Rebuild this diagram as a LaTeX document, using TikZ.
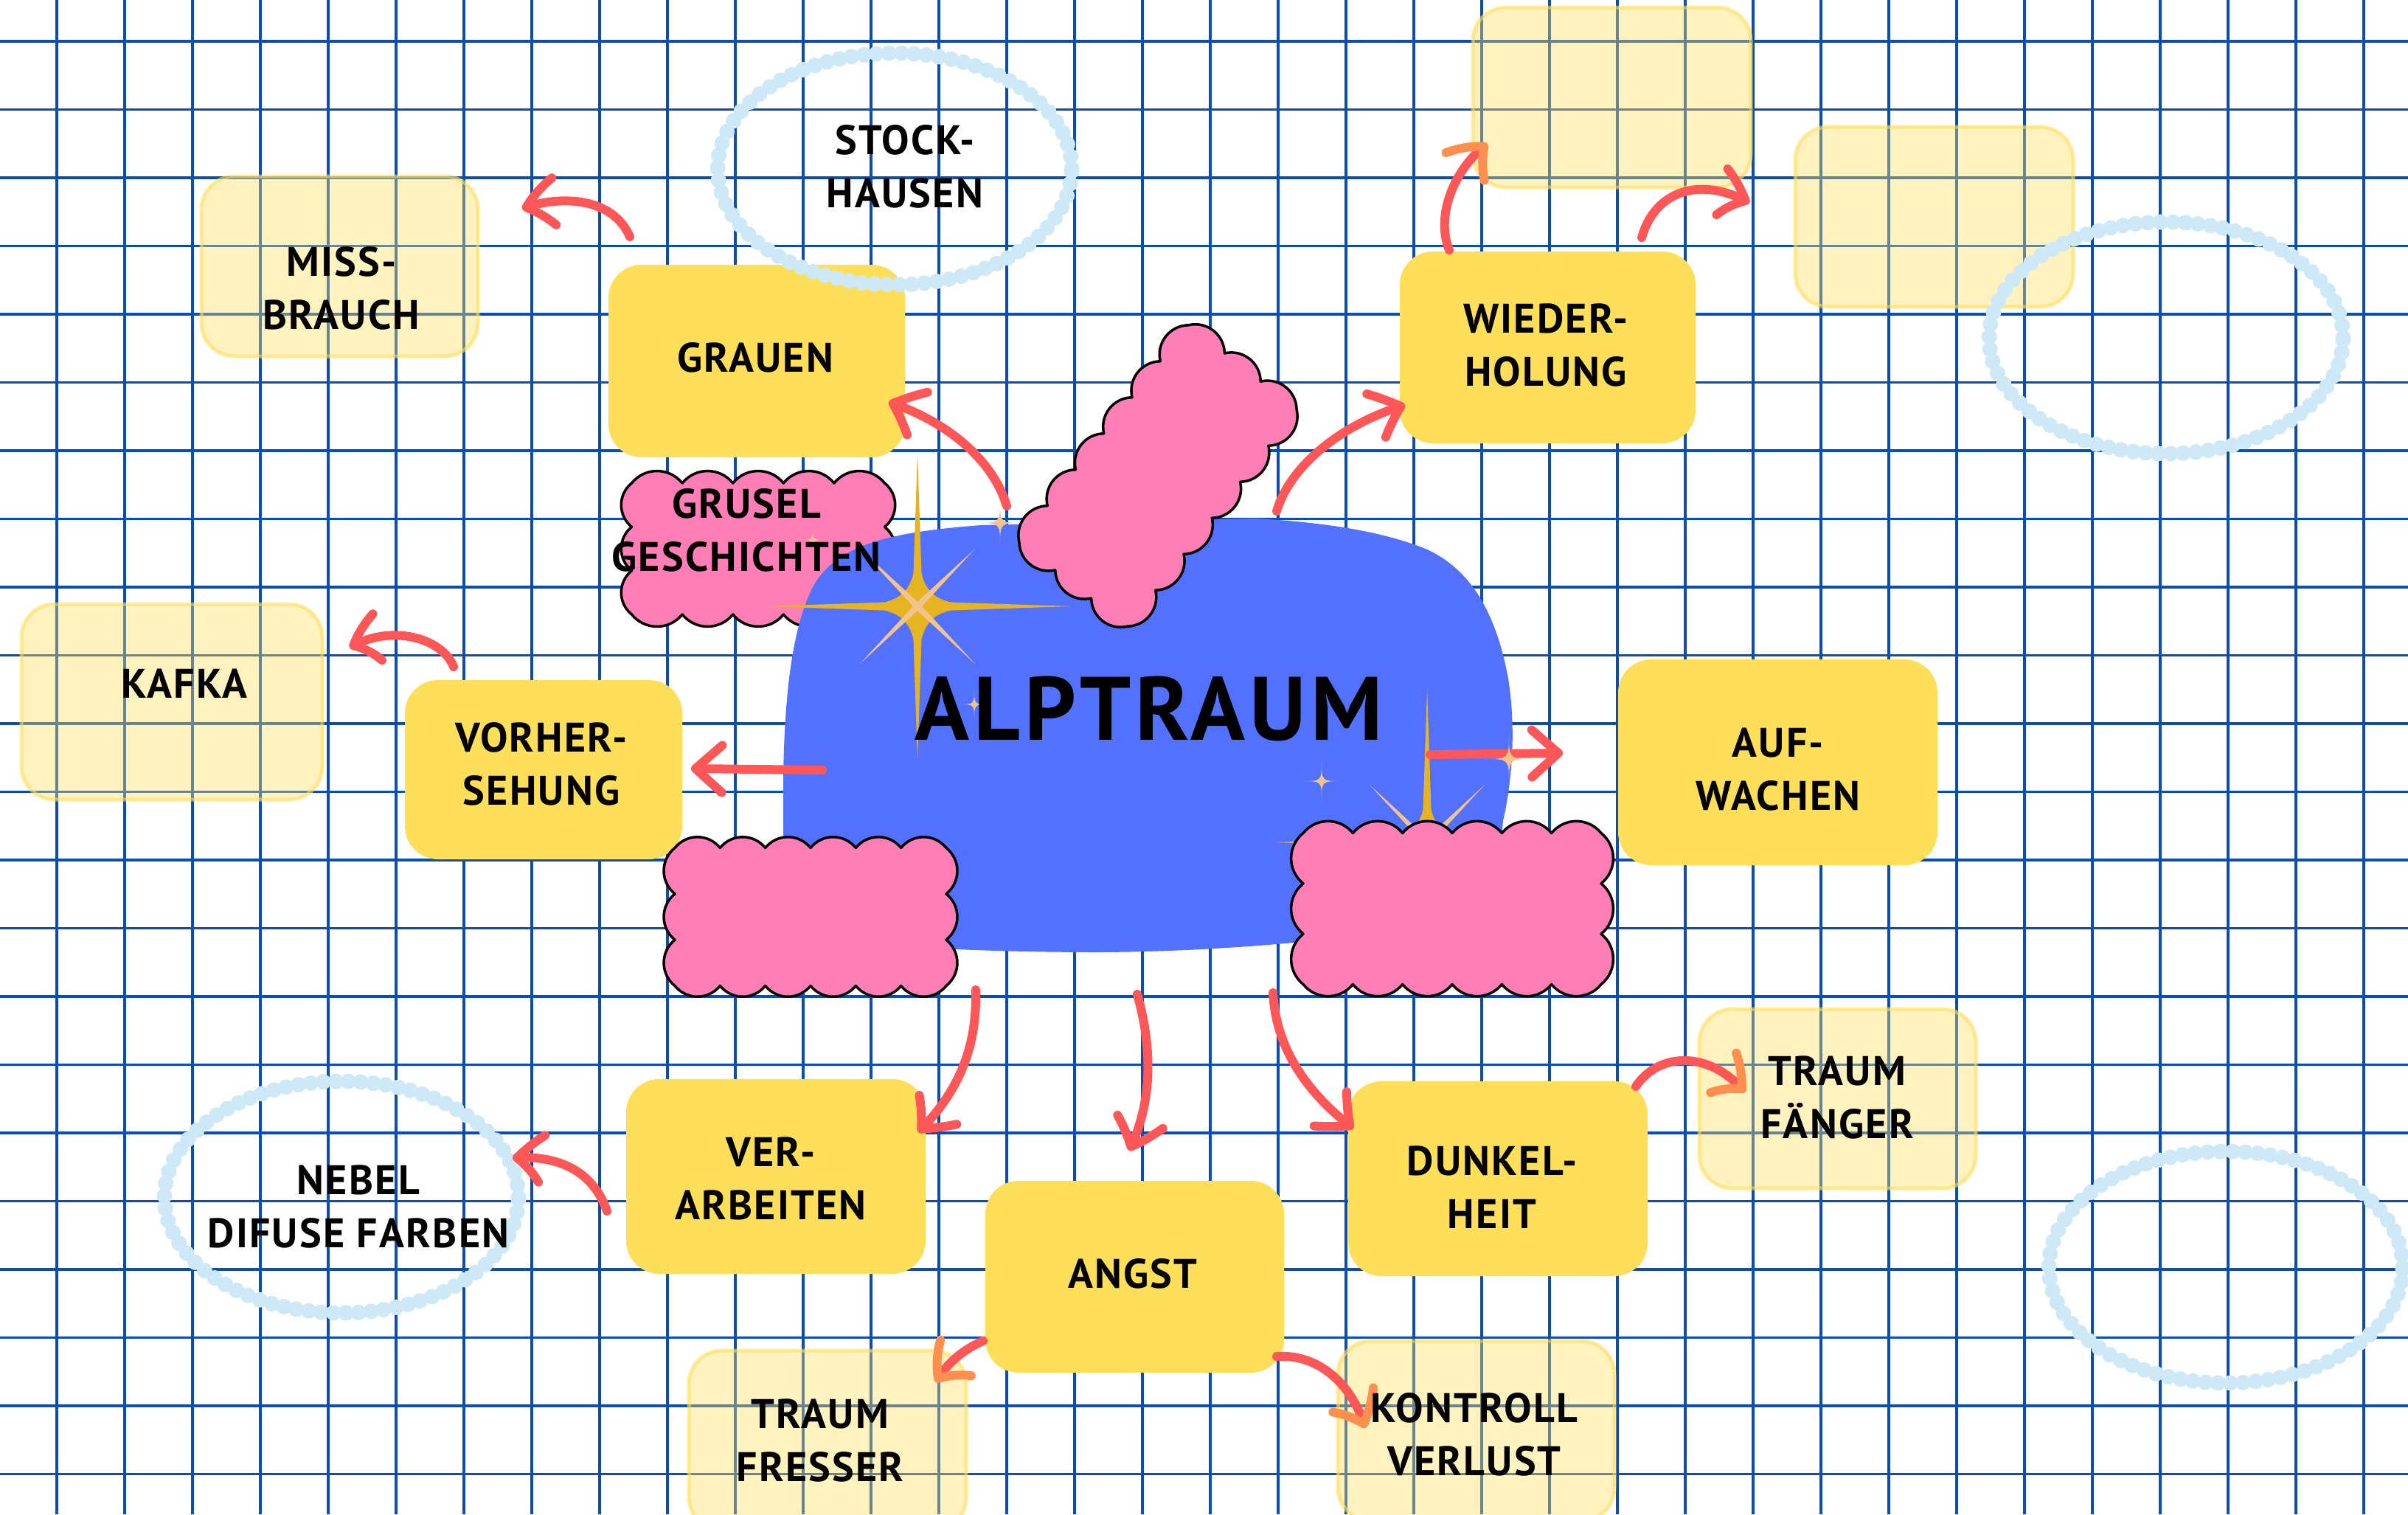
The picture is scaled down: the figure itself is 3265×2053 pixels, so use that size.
\documentclass[tikz,border=0pt]{standalone}
\usepackage{fontspec}
\setmainfont{PT Sans}
\usetikzlibrary{arrows.meta,bending}
\definecolor{gridblue}{HTML}{0A4DB3}
\definecolor{blobblue}{HTML}{5271FF}
\definecolor{cloudpink}{HTML}{FF7EB6}
\definecolor{boxyellow}{HTML}{FFDE59}
\definecolor{arrred}{HTML}{FF5757}
\definecolor{arrorange}{HTML}{FF8F4F}
\definecolor{beadblue}{HTML}{CDE8F6}
\definecolor{sparkgold}{HTML}{E6B420}
\definecolor{sparkpeach}{HTML}{F2C48C}

% scalloped cloud: cx cy W H nx ny rot
\newcommand{\scloud}[7]{%
\begin{scope}[shift={(#1,#2)}, rotate=#7]
\pgfmathsetmacro\sclW{#3/2}\pgfmathsetmacro\sclH{#4/2}%
\pgfmathsetmacro\sclX{#3/#5}\pgfmathsetmacro\sclY{#4/#6}%
\filldraw[cloudstyle] (-\sclW,-\sclH)
 \foreach \i in {1,...,#5}{ .. controls ({-\sclW+(\i-1)*\sclX+0.26*\sclX},{-\sclH-0.32*\sclX}) and ({-\sclW+\i*\sclX-0.26*\sclX},{-\sclH-0.32*\sclX}) .. ({-\sclW+\i*\sclX},{-\sclH}) }
 \foreach \i in {1,...,#6}{ .. controls ({\sclW+0.32*\sclY},{-\sclH+(\i-1)*\sclY+0.26*\sclY}) and ({\sclW+0.32*\sclY},{-\sclH+\i*\sclY-0.26*\sclY}) .. ({\sclW},{-\sclH+\i*\sclY}) }
 \foreach \i in {1,...,#5}{ .. controls ({\sclW-(\i-1)*\sclX-0.26*\sclX},{\sclH+0.32*\sclX}) and ({\sclW-\i*\sclX+0.26*\sclX},{\sclH+0.32*\sclX}) .. ({\sclW-\i*\sclX},{\sclH}) }
 \foreach \i in {1,...,#6}{ .. controls ({-\sclW-0.32*\sclY},{\sclH-(\i-1)*\sclY-0.26*\sclY}) and ({-\sclW-0.32*\sclY},{\sclH-\i*\sclY+0.26*\sclY}) .. ({-\sclW},{\sclH-\i*\sclY}) }
 -- cycle;
\end{scope}}

% small four point sparkle: x y L colour rotation
\newcommand{\sparkle}[5]{%
\begin{scope}[shift={(#1,#2)}, rotate=#5]
\fill[#4] (0,-#3) .. controls (0,0) and (0,0) .. (#3,0) .. controls (0,0) and (0,0) .. (0,#3) .. controls (0,0) and (0,0) .. (-#3,0) .. controls (0,0) and (0,0) .. cycle;
\end{scope}}

% big gold sparkle with thin peach cross: x y
\newcommand{\bigsparkle}[2]{%
\begin{scope}[shift={(#1,#2)}]
\fill[sparkgold] (0,-150) .. controls (0,0) and (0,0) .. (150,0) .. controls (0,0) and (0,0) .. (0,150) .. controls (0,0) and (0,0) .. (-150,0) .. controls (0,0) and (0,0) .. cycle;
\fill[sparkgold] (-208,0) -- (0,-7) -- (208,0) -- (0,7) -- cycle;
\fill[sparkgold] (0,-208) -- (7,0) -- (0,208) -- (-7,0) -- cycle;
\begin{scope}[rotate=45]
\fill[sparkpeach] (-110,0) -- (0,-4.5) -- (110,0) -- (0,4.5) -- cycle;
\fill[sparkpeach] (0,-110) -- (4.5,0) -- (0,110) -- (-4.5,0) -- cycle;
\end{scope}
\end{scope}}

\begin{document}
\begin{tikzpicture}[x=1pt,y=-1pt,
 gridline/.style={draw=gridblue, line width=3.5pt},
 ybox/.style={fill=boxyellow, rounded corners=45pt, inner sep=0pt, draw=none},
 lbox/.style={fill=boxyellow, fill opacity=0.38, draw=boxyellow, draw opacity=0.6, line width=5pt, rounded corners=45pt, inner sep=0pt},
 bead/.style={draw=beadblue, line width=12pt},
 beaddots/.style={draw=beadblue, line width=21pt, line cap=round, dash pattern=on 0pt off 17pt},
 cloudstyle/.style={fill=cloudpink, draw=black, line width=3.5pt, line join=round},
 lbl/.style={font=\bfseries\fontsize{56}{72}\selectfont\addfontfeature{LetterSpace=4}, align=center, inner sep=0pt, text=black},
 arr/.style={draw=arrred, line width=12pt, line cap=round, -{Straight Barb[length=36pt, width=64pt, round, bend]}},
 arro/.style={draw=arrred, line width=12pt, line cap=round, -{Straight Barb[length=36pt, width=64pt, round, bend, color=arrorange]}},
]
\clip (0,0) rectangle (3265,2053);
\fill[white] (0,0) rectangle (3265,2053);

% grid
\foreach \k in {0,...,34} \draw[gridline] ({77+92*\k},0) -- ({77+92*\k},2053);
\foreach \k in {0,...,21} \draw[gridline] (0,{56+92.5*\k}) -- (3265,{56+92.5*\k});

% light boxes
\node[lbox, minimum width=375pt, minimum height=244pt] (missbox) at (460.5,361) {};
\node[lbox, minimum width=408pt, minimum height=265pt] (kafkabox) at (233,951.5) {};
\node[lbox, minimum width=377pt, minimum height=244pt] (topone) at (2185.5,132) {};
\node[lbox, minimum width=377pt, minimum height=244pt] (toptwo) at (2622.5,294) {};
\node[lbox, minimum width=375pt, minimum height=243pt] (faengerbox) at (2491.5,1489.5) {};
\node[lbox, minimum width=376pt, minimum height=244pt] (fresserbox) at (1122,1953) {};
\node[lbox, minimum width=375pt, minimum height=244pt] (kontrollbox) at (2001.5,1940) {};

% yellow boxes
\node[ybox, minimum width=402pt, minimum height=261pt] (grauen) at (1026,489.5) {};
\node[ybox, minimum width=376pt, minimum height=243pt] (vorher) at (737,1043.5) {};
\node[ybox, minimum width=401pt, minimum height=260pt] (wieder) at (2098.5,471) {};
\node[ybox, minimum width=433pt, minimum height=279pt] (auf) at (2410.5,1033.5) {};
\node[ybox, minimum width=406pt, minimum height=264pt] (ver) at (1052,1595) {};
\node[ybox, minimum width=405pt, minimum height=260pt] (angst) at (1538.5,1731) {};
\node[ybox, minimum width=406pt, minimum height=264pt] (dunkel) at (2031,1598) {};

% bead ellipses
\foreach \c in {(1213,229),(2937,458),(463,1623),(3018,1718)}{
 \draw[bead] \c ellipse [x radius=240pt, y radius=157pt];
 \draw[beaddots] \c ellipse [x radius=240pt, y radius=157pt];
}

% grusel cloud (below blob)
\scloud{1028}{744}{343}{178}{5}{3}{0}

% central blob
\fill[blobblue] (1062,1180) -- (1062,1050) .. controls (1064,950) and (1072,860) .. (1100,800)
 .. controls (1130,740) and (1200,722) .. (1330,712) -- (1701,703)
 .. controls (1800,708) and (1880,722) .. (1935,745)
 .. controls (2000,775) and (2030,840) .. (2045,920)
 .. controls (2056,990) and (2050,1060) .. (2038,1113) -- (2025,1240)
 .. controls (1900,1265) and (1700,1290) .. (1490,1291)
 .. controls (1350,1291) and (1200,1285) .. (1090,1270)
 .. controls (1065,1250) and (1062,1220) .. (1062,1180) -- cycle;

% main sparkle
\bigsparkle{1244}{822}
\sparkle{1356}{709}{32}{sparkpeach}{0}
\sparkle{1321}{955}{21}{sparkpeach}{0}
\sparkle{1102}{732}{18}{sparkpeach}{0}
\sparkle{1792}{1059}{27}{sparkpeach}{0}

% rotated cloud
\scloud{1570}{645}{186}{373}{3}{6}{-38}

% right sparkle
\bigsparkle{1935}{1142}

% bottom clouds
\scloud{1099}{1243}{368}{187}{6}{3}{0}
\scloud{1969}{1232}{404}{205}{6}{3}{0}

% arrow coordinates
\coordinate (aS) at (1365,686);   \coordinate (aT) at (1205,545);
\coordinate (bS) at (1731,693);   \coordinate (bT) at (1905,549);
\coordinate (cS) at (1965,339);   \coordinate (cT) at (2017,195);
\coordinate (dS) at (2226,322);   \coordinate (dT) at (2372,275);
\coordinate (eS) at (1939,1023);  \coordinate (eT) at (2119,1021);
\coordinate (fS) at (1115,1044);  \coordinate (fT) at (937,1042);
\coordinate (gS) at (615,904);    \coordinate (gT) at (474,878);
\coordinate (hS) at (854,321);    \coordinate (hT) at (708,283);
\coordinate (iS) at (1323,1342);  \coordinate (iT) at (1245,1535);
\coordinate (jS) at (1542,1348);  \coordinate (jT) at (1531,1560);
\coordinate (kS) at (1726,1346);  \coordinate (kT) at (1835,1530);
\coordinate (lS) at (823,1642);   \coordinate (lT) at (695,1570);
\coordinate (mS) at (1333,1818);  \coordinate (mT) at (1269,1874);
\coordinate (nS) at (1731,1839);  \coordinate (nT) at (1851,1936);
\coordinate (oS) at (2218,1473);  \coordinate (oT) at (2366,1481);

\draw[arr] (aS) .. controls (1345,620) and (1280,570) .. (aT);
\draw[arr] (bS) .. controls (1750,630) and (1820,575) .. (bT);
\draw[arro] (cS) .. controls (1945,290) and (1975,225) .. (cT);
\draw[arr] (dS) .. controls (2245,255) and (2310,240) .. (dT);
\draw[arr] (eS) -- (eT);
\draw[arr] (fS) -- (fT);
\draw[arr] (gS) .. controls (600,865) and (530,845) .. (gT);
\draw[arr] (hS) .. controls (830,265) and (755,265) .. (hT);
\draw[arr] (iS) .. controls (1325,1420) and (1300,1480) .. (iT);
\draw[arr] (jS) .. controls (1565,1430) and (1560,1500) .. (jT);
\draw[arr] (kS) .. controls (1730,1420) and (1770,1480) .. (kT);
\draw[arr] (lS) .. controls (805,1590) and (760,1565) .. (lT);
\draw[arro] (mS) .. controls (1305,1830) and (1282,1850) .. (mT);
\draw[arro] (nS) .. controls (1790,1835) and (1835,1880) .. (nT);
\draw[arro] (oS) .. controls (2250,1425) and (2320,1425) .. (oT);

\sparkle{2046}{1029}{34}{sparkpeach}{0}

% texts
\node[lbl] (tmiss) at (463,391) {MISS-\\BRAUCH};
\node[lbl] (tstock) at (1227,226) {STOCK-\\HAUSEN};
\node[lbl] (tgrauen) at (1024,485) {GRAUEN};
\node[lbl] (tgrusel) at (1012,719) {GRUSEL\\GESCHICHTEN};
\node[lbl] (tkafka) at (250,927) {KAFKA};
\node[lbl] (tvorher) at (734,1036) {VORHER-\\SEHUNG};
\node[lbl] (twieder) at (2096,468) {WIEDER-\\HOLUNG};
\node[lbl] (tauf) at (2411,1043) {AUF-\\WACHEN};
\node[lbl] (tver) at (1045,1598) {VER-\\ARBEITEN};
\node[lbl] (tangst) at (1536,1727) {ANGST};
\node[lbl] (tnebel) at (486,1636) {NEBEL\\DIFUSE FARBEN};
\node[lbl] (tfresser) at (1112,1953) {TRAUM\\FRESSER};
\node[lbl] (tdunkel) at (2023,1610) {DUNKEL-\\HEIT};
\node[lbl] (tfaenger) at (2491,1488) {TRAUM\\FÄNGER};
\node[lbl] (tkontroll) at (1999,1945) {KONTROLL\\VERLUST};
\node[font=\bfseries\fontsize{122}{132}\selectfont\addfontfeature{LetterSpace=5}, inner sep=0pt] (talp) at (1558,961) {ALPTRAUM};
\end{tikzpicture}
\end{document}
